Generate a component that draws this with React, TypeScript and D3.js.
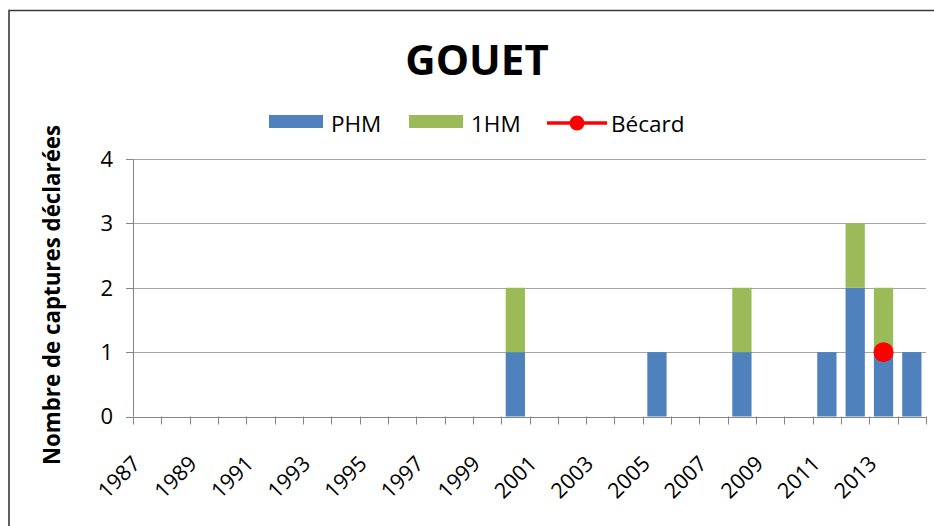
import React from "react";
import * as d3 from "d3";

const years = ["1987","1988","1989","1990","1991","1992","1993","1994","1995","1996","1997","1998","1999","2000","2001","2002","2003","2004","2005","2006","2007","2008","2009","2010","2011","2012","2013","2014"];
const labeledYears = ["1987","1989","1991","1993","1995","1997","1999","2001","2003","2005","2007","2009","2011","2013"];
const phm = [0,0,0,0,0,0,0,0,0,0,0,0,0,1,0,0,0,0,1,0,0,1,0,0,1,2,1,1];
const hm1 = [0,0,0,0,0,0,0,0,0,0,0,0,0,1,0,0,0,0,0,0,0,1,0,0,0,1,1,0];
const becard: (number | null)[] = [null,null,null,null,null,null,null,null,null,null,null,null,null,null,null,null,null,null,null,null,null,null,null,null,null,null,1,null];
const yTicks = [0,1,2,3,4];
const seriesNames = ["PHM", "1HM", "Bécard"];

const W = 934, H = 526;
const FONT = "'Open Sans', 'DejaVu Sans', sans-serif";
const COLORS = { PHM: "#4F81BD", HM1: "#9BBB59", BEC: "#FF0000" };

export default function App() {
  const left = 133, right = 926, top = 159, bottom = 416.5;
  const x = d3.scaleBand<string>().domain(years).range([left, right]).paddingInner(0.32).paddingOuter(0.16);
  const xb = d3.scaleBand<string>().domain(years).range([left, right]);
  const y = d3.scaleLinear().domain([0, 4]).range([bottom, top]);

  const stackData = years.map((yr, i) => ({ year: yr, PHM: phm[i], HM1: hm1[i] }));
  const stacked = d3.stack<any>().keys(["PHM", "HM1"])(stackData);
  const colorOf = (k: string) => (k === "PHM" ? COLORS.PHM : COLORS.HM1);

  const line = d3.line<number | null>()
    .defined((d) => d !== null)
    .x((_, i) => (xb(years[i]) as number) + xb.bandwidth() / 2)
    .y((d) => y(d as number));

  const step = xb.step();

  return (
    <div style={{ position: "fixed", left: 0, top: 0, width: W, height: H, background: "#fff" }}>
      <svg width={W} height={H} style={{ display: "block", fontFamily: FONT }}>
        <rect x={0} y={0} width={W} height={H} fill="#fff" />
        {/* outer border */}
        <path d={`M9,${H} L9,10.5 L${W},10.5`} fill="none" stroke="#3a3a3a" strokeWidth={1.6} />

        {/* title */}
        <text x={477} y={75} textAnchor="middle" fontSize={42} fontWeight="bold" fill="#000">GOUET</text>

        {/* legend */}
        <g fontSize={22.5} fill="#000">
          <rect x={269} y={115} width={54} height={13} fill={COLORS.PHM} />
          <text x={331} y={131.5}>{seriesNames[0]}</text>
          <rect x={409} y={115} width={54} height={13} fill={COLORS.HM1} />
          <text x={471} y={131.5}>{seriesNames[1]}</text>
          <line x1={547} x2={607} y1={123} y2={123} stroke={COLORS.BEC} strokeWidth={3.5} />
          <circle cx={577} cy={123} r={7.5} fill={COLORS.BEC} />
          <text x={611} y={131.5}>{seriesNames[2]}</text>
        </g>

        {/* gridlines */}
        {yTicks.slice(1).map((t) => (
          <line key={t} x1={left} x2={right} y1={Math.round(y(t)) + 0.5} y2={Math.round(y(t)) + 0.5} stroke="#a6a6a6" strokeWidth={1} />
        ))}

        {/* bars */}
        {stacked.map((s) => (
          <g key={s.key} fill={colorOf(s.key)}>
            {s.map((d, i) =>
              d[1] - d[0] > 0 ? (
                <rect key={i} x={x(years[i])} width={x.bandwidth()} y={y(d[1])} height={y(d[0]) - y(d[1])} />
              ) : null
            )}
          </g>
        ))}

        {/* y axis */}
        <line x1={left + 0.5} x2={left + 0.5} y1={top} y2={bottom} stroke="#868686" strokeWidth={1} />
        {yTicks.map((t) => (
          <g key={t}>
            <line x1={left - 7} x2={left} y1={Math.round(y(t)) + 0.5} y2={Math.round(y(t)) + 0.5} stroke="#868686" />
            <text x={113} y={y(t) + 7.8} textAnchor="end" fontSize={22} fill="#000">{t}</text>
          </g>
        ))}

        {/* x axis */}
        <line x1={left} x2={right} y1={Math.round(bottom) + 0.5} y2={Math.round(bottom) + 0.5} stroke="#868686" strokeWidth={1} />
        {years.concat(["end"]).map((yr, i) => {
          const tx = Math.round(left + i * step) + 0.5;
          return <line key={"t" + i} x1={tx} x2={tx} y1={bottom} y2={bottom + 8} stroke="#868686" />;
        })}
        {labeledYears.map((yr) => {
          const cx = (xb(yr) as number) + xb.bandwidth() / 2;
          return (
            <text key={yr} transform={`translate(${cx - 5.5},${465}) rotate(-45)`} textAnchor="end" fontSize={21.5} fill="#000">{yr}</text>
          );
        })}

        {/* Bécard line + markers */}
        <path d={line(becard) || ""} fill="none" stroke={COLORS.BEC} strokeWidth={3} />
        {becard.map((v, i) =>
          v === null ? null : (
            <circle key={i} cx={(xb(years[i]) as number) + xb.bandwidth() / 2} cy={y(v)} r={10} fill={COLORS.BEC} />
          )
        )}

        {/* y axis title */}
        <text transform={`translate(60,${295}) rotate(-90)`} textAnchor="middle" fontSize={22.3} fontWeight="bold" fill="#000">Nombre de captures déclarées</text>
      </svg>
    </div>
  );
}
